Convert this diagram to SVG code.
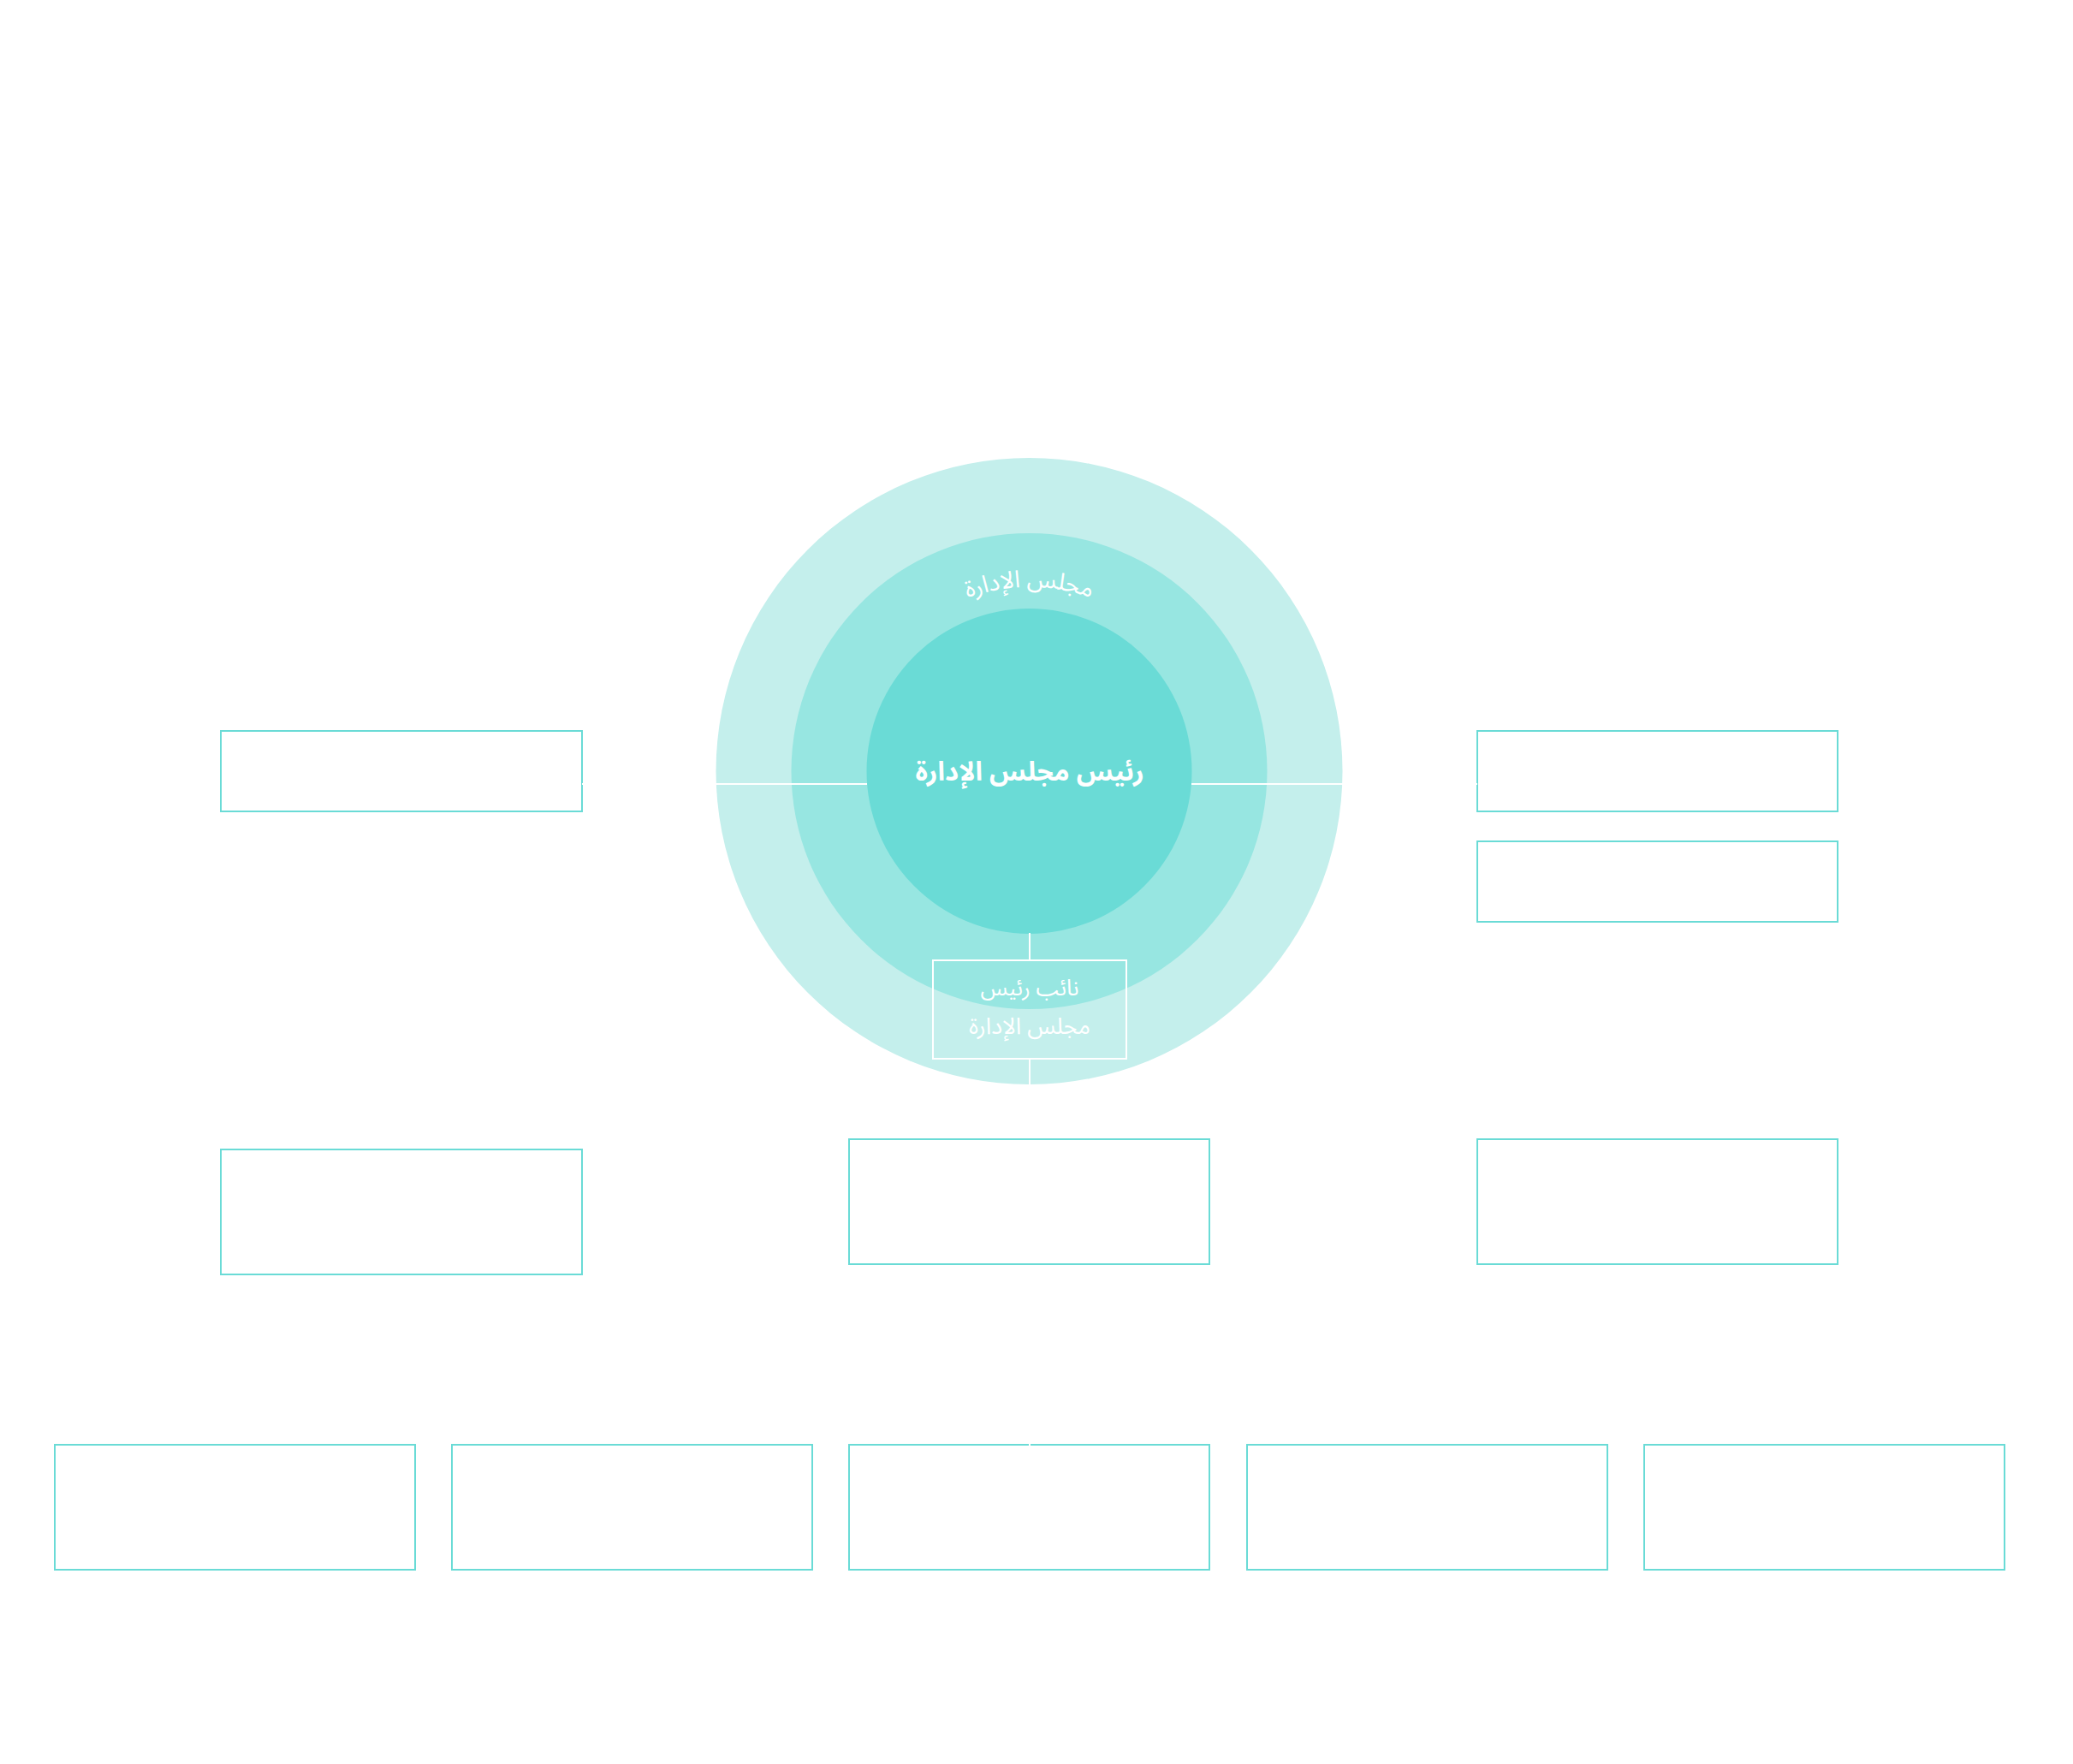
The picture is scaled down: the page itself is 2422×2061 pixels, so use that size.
<svg xmlns="http://www.w3.org/2000/svg" xmlns:xlink="http://www.w3.org/1999/xlink" width="2422" height="2061" viewBox="0 0 2422 2061">
  <style>
    .box { fill: #ffffff; stroke: #6adbd6; stroke-width: 2; }
    .conn { stroke: #ffffff; stroke-width: 2; fill: none; }
    .ar { font-family: "Noto Sans Arabic", "DejaVu Sans", sans-serif; fill: #ffffff; text-anchor: middle; }
  </style>
  <defs>
    <path id="arc" d="M 987.5,901 A 215 215 0 0 1 1417.5,901"/>
  </defs>
  <rect width="2422" height="2061" fill="#ffffff"/>

  <g id="outer-ring">
    <circle cx="1202.5" cy="901" r="366" fill="#c4efec"/>
  </g>
  <g id="board">
    <circle cx="1202.5" cy="901" r="278" fill="#97e6e1"/>
    <text class="ar" font-size="28"><textPath xlink:href="#arc" href="#arc" startOffset="50%">مجلس الإدارة</textPath></text>
  </g>
  <g id="chairman">
    <circle cx="1202.5" cy="901" r="190" fill="#6adbd6"/>
    <text class="ar" x="1203" y="912" font-size="31" font-weight="bold">رئيس مجلس الإدارة</text>
  </g>

  <g id="boxes">
    <g id="box-left-top"><rect class="box" x="258" y="854" width="422" height="94"/></g>
    <g id="box-right-top-1"><rect class="box" x="1726" y="854" width="421" height="94"/></g>
    <g id="box-right-top-2"><rect class="box" x="1726" y="983" width="421" height="94"/></g>
    <g id="box-left-mid"><rect class="box" x="258" y="1343" width="422" height="146"/></g>
    <g id="box-center-mid"><rect class="box" x="992" y="1331" width="421" height="146"/></g>
    <g id="box-right-mid"><rect class="box" x="1726" y="1331" width="421" height="146"/></g>
    <g id="box-bottom-1"><rect class="box" x="64" y="1688" width="421" height="146"/></g>
    <g id="box-bottom-2"><rect class="box" x="528" y="1688" width="421" height="146"/></g>
    <g id="box-bottom-3"><rect class="box" x="992" y="1688" width="421" height="146"/></g>
    <g id="box-bottom-4"><rect class="box" x="1457" y="1688" width="421" height="146"/></g>
    <g id="box-bottom-5"><rect class="box" x="1921" y="1688" width="421" height="146"/></g>
  </g>

  <g id="connectors">
    <line class="conn" x1="680" y1="916" x2="1013" y2="916"/>
    <line class="conn" x1="1392" y1="916" x2="1726" y2="916"/>
    <line class="conn" x1="1203" y1="1090" x2="1203" y2="1122"/>
    <line class="conn" x1="1203" y1="1237" x2="1203" y2="1329"/>
    <line class="conn" x1="1203" y1="1479" x2="1203" y2="1689"/>
  </g>

  <g id="vice-chairman">
    <rect x="1090" y="1122" width="226" height="115" fill="none" stroke="#ffffff" stroke-width="2"/>
    <text class="ar" x="1203" y="1163" font-size="26">نائب رئيس</text>
    <text class="ar" x="1203" y="1208" font-size="27">مجلس الإدارة</text>
  </g>
</svg>
